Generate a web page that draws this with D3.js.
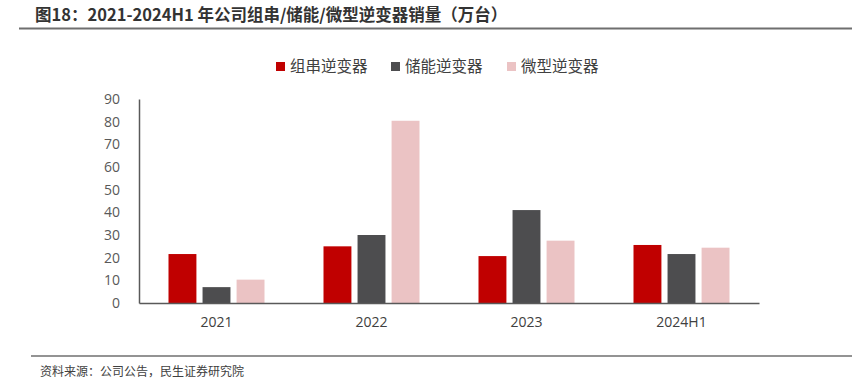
<!DOCTYPE html>
<html>
<head>
<meta charset="utf-8">
<script src="https://cdn.jsdelivr.net/npm/d3@7"></script>
<style>
  body { margin: 0; background: #fff; }
  text { font-family: "Noto Sans CJK SC", "Noto Sans", sans-serif; }
</style>
</head>
<body>
<div id="chart"></div>
<script>
var categories = ["2021", "2022", "2023", "2024H1"];
var seriesNames = ["组串逆变器", "储能逆变器", "微型逆变器"];
var stringInv = [21.6, 25.0, 20.7, 25.6];
var storageInv = [7.0, 30.0, 41.0, 21.6];
var microInv = [10.3, 80.4, 27.5, 24.4];
var yTicks = [0, 10, 20, 30, 40, 50, 60, 70, 80, 90];
var colors = ["#C00000", "#4D4D4F", "#EBC3C4"];

var series = [stringInv, storageInv, microInv];

var svg = d3.select("#chart").append("svg")
    .attr("width", 852)
    .attr("height", 391);

// title + rule
svg.append("text")
    .attr("x", 35)
    .attr("y", 21)
    .attr("font-size", 16.5)
    .attr("font-weight", "bold")
    .attr("fill", "#333")
    .text("图18：2021-2024H1 年公司组串/储能/微型逆变器销量（万台）");
svg.append("line")
    .attr("x1", 19).attr("x2", 852)
    .attr("y1", 28.5).attr("y2", 28.5)
    .attr("stroke", "#6f6f6f")
    .attr("stroke-width", 2);

var margin = {left: 139, top: 99, right: 93, bottom: 88},
    width = 852 - margin.left - margin.right,
    height = 391 - margin.top - margin.bottom;

var g = svg.append("g").attr("transform", "translate(" + margin.left + "," + margin.top + ")");

var x0 = d3.scaleBand().domain(categories).range([0, width]);
var groupW = 96;
var x1 = d3.scaleBand().domain(d3.range(series.length))
    .range([(x0.bandwidth() - groupW) / 2, (x0.bandwidth() + groupW) / 2])
    .paddingInner(0.18).paddingOuter(0);
var y = d3.scaleLinear().domain([0, 90]).range([height, 0]);

// bars
var grp = g.selectAll(".cat")
    .data(categories)
    .enter().append("g")
    .attr("class", "cat")
    .attr("transform", function(d) { return "translate(" + x0(d) + ",0)"; });

grp.selectAll("rect")
    .data(function(d, i) { return series.map(function(s, k) { return {k: k, v: s[i]}; }); })
    .enter().append("rect")
    .attr("x", function(d) { return x1(d.k); })
    .attr("width", x1.bandwidth())
    .attr("y", function(d) { return y(d.v); })
    .attr("height", function(d) { return height - y(d.v); })
    .attr("fill", function(d) { return colors[d.k]; });

// y axis
var yAxis = g.append("g")
    .call(d3.axisLeft(y).tickValues(yTicks).tickSize(0).tickPadding(19));
yAxis.select(".domain").attr("stroke", "#595959").attr("stroke-width", 1.5);
yAxis.selectAll("text")
    .attr("font-size", 14)
    .attr("fill", "#595959")
    .style("font-family", "'Open Sans', 'Noto Sans', sans-serif");

// x axis
var xAxis = g.append("g")
    .attr("transform", "translate(0," + height + ")")
    .call(d3.axisBottom(x0).tickSize(0).tickPadding(14));
xAxis.select(".domain").attr("stroke", "#595959").attr("stroke-width", 1.5);
xAxis.selectAll("text")
    .attr("font-size", 14)
    .attr("fill", "#404040")
    .style("font-family", "'Open Sans', 'Noto Sans', sans-serif");

// legend
var legendX = [276, 391, 507];
var legend = svg.selectAll(".legend")
    .data(seriesNames)
    .enter().append("g")
    .attr("class", "legend")
    .attr("transform", function(d, i) { return "translate(" + legendX[i] + ",61)"; });
legend.append("rect")
    .attr("width", 9).attr("height", 9).attr("y", 1)
    .attr("fill", function(d, i) { return colors[i]; });
legend.append("text")
    .attr("x", 14)
    .attr("y", 11)
    .attr("font-size", 15.5)
    .attr("fill", "#404040")
    .text(function(d) { return d; });

// footer
svg.append("line")
    .attr("x1", 31).attr("x2", 852)
    .attr("y1", 356).attr("y2", 356)
    .attr("stroke", "#6f6f6f")
    .attr("stroke-width", 1.5);
svg.append("text")
    .attr("x", 40)
    .attr("y", 376)
    .attr("font-size", 12)
    .attr("fill", "#404040")
    .text("资料来源：公司公告，民生证券研究院");
</script>
</body>
</html>
